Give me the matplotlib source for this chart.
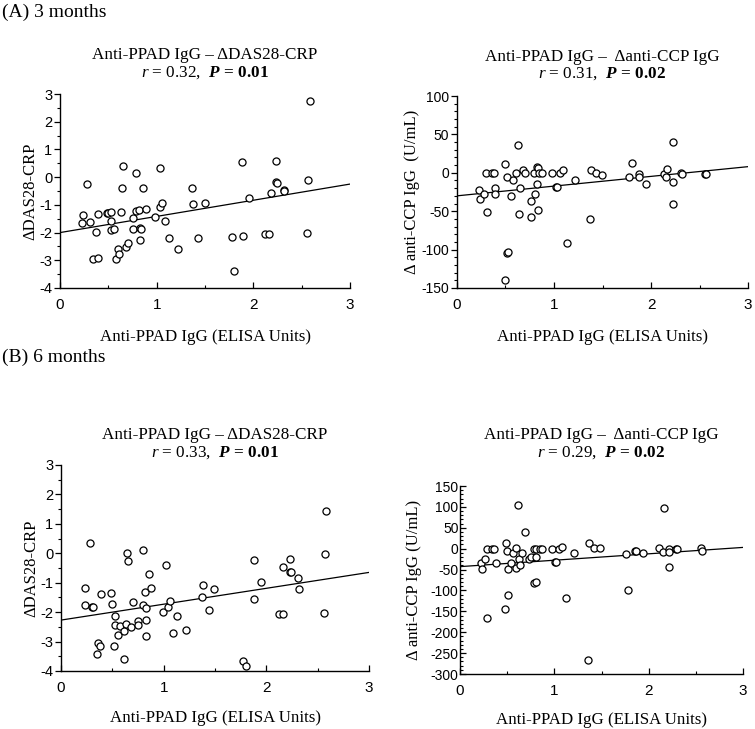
import matplotlib
matplotlib.use("Agg")
import matplotlib.pyplot as plt
from matplotlib.ticker import MultipleLocator
from matplotlib import font_manager
import numpy as np

plt.rcParams['mathtext.fontset'] = 'custom'
plt.rcParams['mathtext.rm'] = 'Liberation Serif'
plt.rcParams['mathtext.it'] = 'Liberation Serif:italic'
plt.rcParams['mathtext.bf'] = 'Liberation Serif:bold'
try:
    plt.rcParams['mathtext.bfit'] = 'Liberation Serif:italic:bold'
except KeyError:
    pass

SERIF = ['Liberation Serif', 'DejaVu Serif']
_avail = {f.name for f in font_manager.fontManager.ttflist}
TICKF = [f for f in ['Liberation Sans Narrow', 'DejaVu Sans Condensed', 'Liberation Sans']
         if f in _avail] + ['DejaVu Sans']

# ---------------- data ----------------
# (A) 3 months, DAS28-CRP
a1_x = [0.24, 0.23, 0.28, 0.31, 0.37, 0.34, 0.39, 0.39, 0.49, 0.50, 0.53, 0.53, 0.53, 0.56,
        0.58, 0.60, 0.61, 0.63, 0.64, 0.65, 0.68, 0.70, 0.75, 0.75, 0.79, 0.79, 0.82, 0.83,
        0.83, 0.84, 0.86, 0.89, 0.98, 1.03, 1.03, 1.06, 1.09, 1.13, 1.22, 1.37, 1.38, 1.43,
        1.50, 1.78, 1.80, 1.88, 1.89, 1.96, 2.12, 2.16, 2.18, 2.23, 2.23, 2.24, 2.32, 2.32,
        2.57, 2.56, 2.59]
a1_y = [-1.37, -1.65, -0.26, -1.61, -1.97, -2.94, -2.91, -1.34, -1.31, -1.28, -1.25, -1.57,
        -1.91, -1.88, -2.94, -2.58, -2.79, -1.25, -0.40, 0.42, -2.52, -2.39, -1.49, -1.88,
        -1.22, 0.14, -1.18, -1.85, -2.27, -1.87, -0.40, -1.16, -1.43, 0.32, -1.07, -0.95,
        -1.59, -2.19, -2.58, -0.38, -0.97, -2.19, -0.92, -2.15, -3.40, 0.53, -2.13, -0.74,
        -2.06, -2.06, -0.56, -0.19, 0.58, -0.21, -0.48, -0.50, -0.10, -2.00, 2.73]
a1_fit_x = [0, 3]
a1_fit_y = [-2.0, -0.25]

# (A) 3 months, anti-CCP
a2_x = [0.23, 0.24, 0.28, 0.30, 0.31, 0.36, 0.38, 0.39, 0.39, 0.50, 0.52, 0.52, 0.53, 0.49,
        0.56, 0.58, 0.61, 0.63, 0.64, 0.65, 0.68, 0.70, 0.76, 0.76, 0.79, 0.80, 0.82, 0.82,
        0.83, 0.83, 0.85, 0.88, 0.98, 1.02, 1.03, 1.06, 1.09, 1.13, 1.22, 1.37, 1.38, 1.43,
        1.49, 1.77, 1.80, 1.88, 1.88, 1.95, 2.13, 2.15, 2.17, 2.23, 2.23, 2.23, 2.31, 2.32,
        2.56, 2.57]
a2_y = [-22, -34, -28, 0, -51, 0, 0, -20, -27, 11, -5, -104, -103, -140, -30, -9, 0, 36,
        -53, -20, 4, 0, -37, -58, 0, -28, -15, 8, -48, 6, 0, 0, 0, -19, -18, 0, 3, -92,
        -10, -60, 3, 0, -3, -5, 13, -2, -5, -14, -2, -5, 5, -12, -40, 40, 0, -1, -1, -1]
a2_fit_x = [0, 3]
a2_fit_y = [-30, 8]

# (B) 6 months, DAS28-CRP
b1_x = [0.23, 0.23, 0.28, 0.30, 0.31, 0.35, 0.36, 0.38, 0.39, 0.49, 0.50, 0.52, 0.53, 0.53,
        0.56, 0.57, 0.61, 0.61, 0.63, 0.64, 0.65, 0.68, 0.70, 0.75, 0.75, 0.80, 0.80, 0.82,
        0.83, 0.83, 0.83, 0.86, 0.88, 0.99, 1.02, 1.04, 1.06, 1.09, 1.13, 1.22, 1.37, 1.38,
        1.44, 1.49, 1.77, 1.80, 1.88, 1.88, 1.95, 2.12, 2.16, 2.16, 2.23, 2.23, 2.24, 2.31,
        2.32, 2.56, 2.57, 2.58]
b1_y = [-1.19, -1.77, 0.34, -1.82, -1.82, -3.43, -3.05, -3.14, -1.37, -1.36, -1.72, -3.14,
        -2.12, -2.45, -2.77, -2.46, -2.63, -3.60, -2.40, 0.00, -0.25, -2.52, -1.65, -2.31,
        -2.42, 0.11, -1.76, -1.32, -1.85, -2.28, -2.82, -0.69, -1.17, -2.00, -0.40, -1.83,
        -1.62, -2.71, -2.12, -2.62, -1.49, -1.09, -1.94, -1.20, -3.65, -3.83, -0.23, -1.54,
        -0.96, -2.06, -2.08, -0.45, -0.20, -0.62, -0.63, -0.85, -1.23, -2.02, -0.03, 1.44]
b1_fit_x = [0, 3]
b1_fit_y = [-2.27, -0.65]

# (B) 6 months, anti-CCP
b2_x = [0.22, 0.23, 0.26, 0.29, 0.29, 0.34, 0.36, 0.38, 0.49, 0.48, 0.50, 0.51, 0.51, 0.54,
        0.56, 0.59, 0.59, 0.61, 0.63, 0.64, 0.66, 0.69, 0.73, 0.75, 0.78, 0.81, 0.78, 0.81,
        0.81, 0.85, 0.87, 0.97, 1.01, 1.02, 1.05, 1.08, 1.12, 1.21, 1.37, 1.36, 1.42, 1.48,
        1.76, 1.78, 1.86, 1.87, 1.94, 2.11, 2.15, 2.16, 2.22, 2.22, 2.22, 2.29, 2.30, 2.56,
        2.57]
b2_y = [-35, -49, -25, -165, 0, 0, 0, -35, 13, -145, -5, -49, -112, -35, -11, 1, -47, 105,
        -24, -40, -11, 39, -25, -19, -83, -79, 0, 0, -19, 0, 0, 0, -33, -33, 0, 5, -118,
        -11, 13, -267, 1, 1, -12, -100, -5, -6, -11, 1, -7, 98, 0, -44, -8, 0, 0, 1, -5]
b2_fit_x = [0, 3]
b2_fit_y = [-43, 3]

# ---------------- layout ----------------
W, H = 755, 729
fig = plt.figure(figsize=(W / 100, H / 100), dpi=100)


def rect(x0, x1, ytop, ybot):
    return [x0 / W, 1 - ybot / H, (x1 - x0) / W, (ybot - ytop) / H]


def panel(box, xs, ys, fx, fy, ylim, ymaj, ymin, ylabel, title, stat, title_px,
          ylabel_x, xlabel_y, ydir='out', ytick_fs=10.5):
    x0, x1, ytop, ybot = box
    ax = fig.add_axes(rect(*box))
    ax.scatter(xs, ys, s=26, facecolors='white', edgecolors='black', linewidths=0.9,
               zorder=3, clip_on=False)
    ax.plot(fx, fy, color='black', lw=0.9, zorder=2)
    ax.set_xlim(0, 3)
    ax.set_ylim(*ylim)
    ax.spines['top'].set_visible(False)
    ax.spines['right'].set_visible(False)
    for s in ('left', 'bottom'):
        ax.spines[s].set_linewidth(1.0)
    ax.xaxis.set_major_locator(MultipleLocator(1))
    ax.xaxis.set_minor_locator(MultipleLocator(0.5))
    ax.yaxis.set_major_locator(MultipleLocator(ymaj))
    ax.yaxis.set_minor_locator(MultipleLocator(ymin))
    ax.tick_params(axis='x', which='major', direction='in', length=4, width=0.9, pad=7)
    ax.tick_params(axis='x', which='minor', direction='in', length=2, width=0.8)
    ax.tick_params(axis='y', which='major', direction=ydir, length=4, width=0.9,
                   pad=1.5 if ydir == 'out' else 1)
    ax.tick_params(axis='y', which='minor', direction=ydir, length=2, width=0.8)
    ax.yaxis.set_major_formatter(matplotlib.ticker.FuncFormatter(lambda v, p: '%d' % v))
    ax.xaxis.set_major_formatter(matplotlib.ticker.FuncFormatter(lambda v, p: '%d' % v))
    for lab in ax.get_xticklabels():
        lab.set_fontfamily(TICKF)
        lab.set_fontsize(11)
    for lab in ax.get_yticklabels():
        lab.set_fontfamily(TICKF)
        lab.set_fontsize(ytick_fs)
    ax.set_xlabel('Anti-PPAD IgG (ELISA Units)', family=SERIF, fontsize=12.2)
    ax.set_ylabel(ylabel, family=SERIF, fontsize=12)
    ax.xaxis.set_label_coords(0.5, -(xlabel_y - ybot) / (ybot - ytop))
    ax.yaxis.set_label_coords((ylabel_x - x0) / (x1 - x0), 0.5)
    ax.xaxis.label.set_va('center')
    ax.yaxis.label.set_va('center')
    cx = (x0 + x1) / 2 / W
    fig.text(cx, 1 - title_px[0] / H, title, ha='center', va='center',
             family=SERIF, fontsize=12.3)
    fig.text(cx, 1 - title_px[1] / H, stat, ha='center', va='center',
             family=SERIF, fontsize=12.3)
    return ax


panel((60, 350, 94, 288), a1_x, a1_y, a1_fit_x, a1_fit_y, (-4, 3), 1, 0.5,
      '\u0394DAS28-CRP', 'Anti-PPAD IgG \u2013 \u0394DAS28-CRP',
      r'$\mathit{r}$ = 0.32,  $\mathbfit{P}\,\mathbf{=\,0.01}$',
      title_px=(55, 73), ylabel_x=30, xlabel_y=337)
panel((457, 748, 96, 288), a2_x, a2_y, a2_fit_x, a2_fit_y, (-150, 100), 50, 10,
      '\u0394 anti-CCP IgG  (U/mL)', 'Anti-PPAD IgG \u2013  \u0394anti-CCP IgG',
      r'$\mathit{r}$ = 0.31,  $\mathbfit{P}\,\mathbf{=\,0.02}$',
      title_px=(57, 74), ylabel_x=412, xlabel_y=337, ytick_fs=10)
panel((61, 369, 465, 671), b1_x, b1_y, b1_fit_x, b1_fit_y, (-4, 3), 1, 0.5,
      '\u0394DAS28-CRP', 'Anti-PPAD IgG \u2013 \u0394DAS28-CRP',
      r'$\mathit{r}$ = 0.33,  $\mathbfit{P}\,\mathbf{=\,0.01}$',
      title_px=(435, 453), ylabel_x=31, xlabel_y=718)
panel((460, 743, 486, 674), b2_x, b2_y, b2_fit_x, b2_fit_y, (-300, 150), 50, 10,
      '\u0394 anti-CCP IgG (U/mL)', 'Anti-PPAD IgG \u2013  \u0394anti-CCP IgG',
      r'$\mathit{r}$ = 0.29,  $\mathbfit{P}\,\mathbf{=\,0.02}$',
      title_px=(435, 453), ylabel_x=414, xlabel_y=720, ydir='in', ytick_fs=10)

fig.text(2 / W, 1 - 12 / H, '(A) 3 months', family=SERIF, fontsize=14, ha='left', va='center')
fig.text(2 / W, 1 - 357 / H, '(B) 6 months', family=SERIF, fontsize=14, ha='left', va='center')

fig.savefig('out.png', dpi=100, facecolor='white')
